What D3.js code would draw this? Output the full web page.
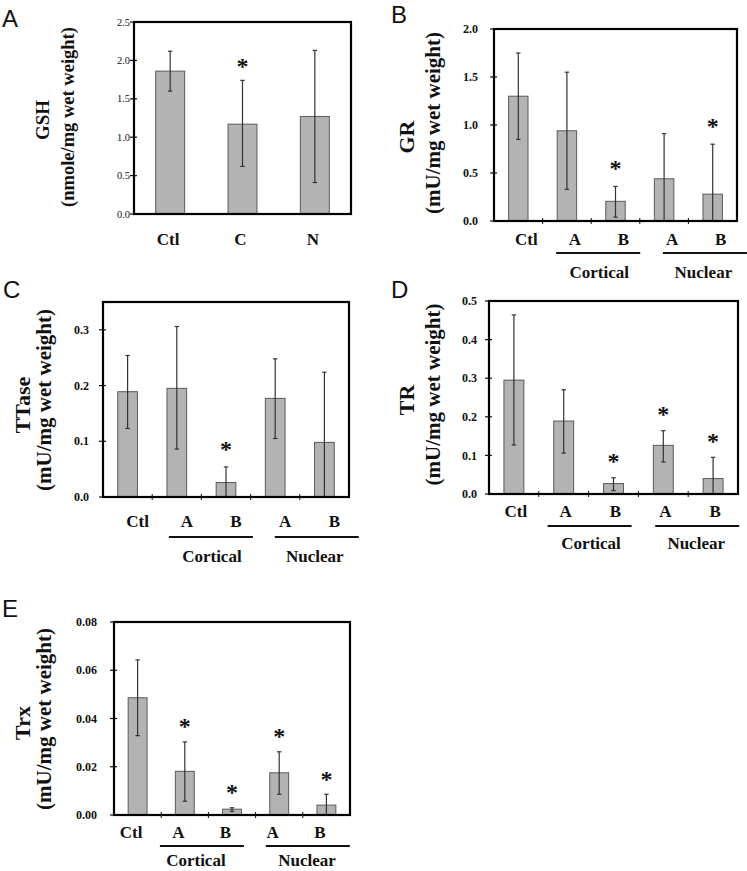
<!DOCTYPE html>
<html>
<head>
<meta charset="utf-8">
<script src="https://cdn.jsdelivr.net/npm/d3@7/dist/d3.min.js"></script>
<style>
  html, body { margin: 0; padding: 0; background: #fff; }
  svg { display: block; }
</style>
</head>
<body>
<svg id="chart" width="747" height="871"></svg>
<script>
// ---------------- DATA ----------------
// Panel A: GSH
const gshCategories = ["Ctl", "C", "N"];
const gshMean  = [1.86, 1.17, 1.27];
const gshUpper = [2.12, 1.74, 2.13];
const gshLower = [1.60, 0.62, 0.41];
const gshSig   = [false, true, false];
const gshTicks = [0, 0.5, 1.0, 1.5, 2.0, 2.5];

// Shared categories for panels B–E
const groupCategories = ["Ctl", "A", "B", "A", "B"];
const groupNames = ["Cortical", "Nuclear"];

// Panel B: GR
const grMean  = [1.30, 0.94, 0.205, 0.44, 0.28];
const grUpper = [1.75, 1.55, 0.36, 0.91, 0.80];
const grLower = [0.85, 0.33, 0.04, 0, 0];
const grSig   = [false, false, true, false, true];
const grTicks = [0, 0.5, 1.0, 1.5, 2.0];

// Panel C: TTase
const ttaseMean  = [0.189, 0.195, 0.026, 0.177, 0.098];
const ttaseUpper = [0.254, 0.306, 0.054, 0.248, 0.224];
const ttaseLower = [0.123, 0.086, 0, 0.105, 0];
const ttaseSig   = [false, false, true, false, false];
const ttaseTicks = [0, 0.1, 0.2, 0.3];

// Panel D: TR
const trMean  = [0.295, 0.189, 0.027, 0.126, 0.040];
const trUpper = [0.464, 0.270, 0.042, 0.164, 0.095];
const trLower = [0.127, 0.106, 0.009, 0.083, 0];
const trSig   = [false, false, true, true, true];
const trTicks = [0, 0.1, 0.2, 0.3, 0.4, 0.5];

// Panel E: Trx
const trxMean  = [0.0486, 0.0181, 0.0024, 0.0175, 0.0041];
const trxUpper = [0.0643, 0.0303, 0.0030, 0.0262, 0.0086];
const trxLower = [0.0329, 0.0057, 0.0015, 0.0086, 0];
const trxSig   = [false, true, true, true, true];
const trxTicks = [0, 0.02, 0.04, 0.06, 0.08];

// ---------------- LAYOUT ----------------
const panels = [
  { letter: "A", cats: gshCategories, mean: gshMean, upper: gshUpper, lower: gshLower, sig: gshSig,
    ticks: gshTicks, ymax: 2.5, fmt: ".1f",
    title1: "GSH", title2: "(nmole/mg wet weight)",
    box: { x0: 134, x1: 351, y0: 22, y1: 214 },
    letterPos: [2, 27], labelY: 245, labelShift: -2, tickLabelX: 130, tickSize: 10.5, tickWeight: "normal",
    t1: { x: 49, y: 120, size: 19 }, t2: { x: 73.5, y: 117, size: 18.5 },
    starOff: 18, minor: false, groups: null },
  { letter: "B", cats: groupCategories, mean: grMean, upper: grUpper, lower: grLower, sig: grSig,
    ticks: grTicks, ymax: 2.0, fmt: ".1f",
    title1: "GR", title2: "(mU/mg wet weight)",
    box: { x0: 494, x1: 737, y0: 29, y1: 221 },
    letterPos: [391, 23], labelY: 245, labelShift: 8, tickLabelX: 478, tickSize: 12, tickWeight: "bold",
    t1: { x: 414, y: 137, size: 22 }, t2: { x: 439.5, y: 123, size: 21 },
    starOff: 22, minor: true,
    groups: { lineY: 253, textY: 278, shift: [7, 16.5], textShift: [1, -1.5] } },
  { letter: "C", cats: groupCategories, mean: ttaseMean, upper: ttaseUpper, lower: ttaseLower, sig: ttaseSig,
    ticks: ttaseTicks, ymax: 0.35, fmt: ".1f",
    title1: "TTase", title2: "(mU/mg wet weight)",
    box: { x0: 103, x1: 349, y0: 302, y1: 497 },
    letterPos: [3, 298], labelY: 527, labelShift: 10, tickLabelX: 89, tickSize: 12, tickWeight: "bold",
    t1: { x: 30, y: 405, size: 22 }, t2: { x: 51, y: 400, size: 21 },
    starOff: 21, minor: true,
    groups: { lineY: 537, textY: 562, shift: [9.5, 17], textShift: [1, -2] } },
  { letter: "D", cats: groupCategories, mean: trMean, upper: trUpper, lower: trLower, sig: trSig,
    ticks: trTicks, ymax: 0.5, fmt: ".1f",
    title1: "TR", title2: "(mU/mg wet weight)",
    box: { x0: 489, x1: 738, y0: 301, y1: 494 },
    letterPos: [391, 298], labelY: 517, labelShift: 2, tickLabelX: 477, tickSize: 12, tickWeight: "bold",
    t1: { x: 414, y: 400, size: 22 }, t2: { x: 440, y: 394.5, size: 21 },
    starOff: 20, minor: true,
    groups: { lineY: 526, textY: 549, shift: [1, 9], textShift: [1.5, -1] } },
  { letter: "E", cats: groupCategories, mean: trxMean, upper: trxUpper, lower: trxLower, sig: trxSig,
    ticks: trxTicks, ymax: 0.08, fmt: ".2f",
    title1: "Trx", title2: "(mU/mg wet weight)",
    box: { x0: 114, x1: 350, y0: 622, y1: 815 },
    letterPos: [2, 617], labelY: 838, labelShift: -6.5, tickLabelX: 97, tickSize: 12, tickWeight: "bold",
    t1: { x: 30, y: 723, size: 22 }, t2: { x: 51, y: 719, size: 21 },
    starOff: 19, minor: true,
    groups: { lineY: 846, textY: 866, shift: [-6.5, 5], textShift: [-6, -0.7] } }
];

const SERIF = "Liberation Serif, Times New Roman, DejaVu Serif, serif";
const SANS = "Liberation Sans, Arial, DejaVu Sans, sans-serif";
const STAR_SIZE = 24;
const svg = d3.select("#chart");

panels.forEach(p => {
  const g = svg.append("g");
  const b = p.box;
  const idx = p.cats.map((c, i) => i);
  const x = d3.scaleBand().domain(idx).range([b.x0, b.x1]).padding(0);
  const y = d3.scaleLinear().domain([0, p.ymax]).range([b.y1, b.y0]);
  const bw = x.bandwidth() * 0.4;
  const cx = i => x(i) + x.bandwidth() / 2;

  // panel letter
  g.append("text").attr("x", p.letterPos[0]).attr("y", p.letterPos[1])
    .attr("font-family", SANS).attr("font-size", 24).attr("fill", "#111").text(p.letter);

  // y-axis titles
  [[p.title1, p.t1], [p.title2, p.t2]].forEach(([txt, t]) => {
    g.append("text").attr("transform", `translate(${t.x},${t.y}) rotate(-90)`)
      .attr("text-anchor", "middle").attr("font-family", SERIF).attr("font-weight", "bold")
      .attr("font-size", t.size).attr("fill", "#111").text(txt);
  });

  // bars
  g.selectAll("rect.bar").data(idx).join("rect").attr("class", "bar")
    .attr("x", i => cx(i) - bw / 2).attr("width", bw)
    .attr("y", i => y(p.mean[i])).attr("height", i => y(0) - y(p.mean[i]))
    .attr("fill", "#b3b3b3").attr("stroke", "#5a5a5a").attr("stroke-width", 1);

  // error bars
  const eb = g.selectAll("g.err").data(idx).join("g").attr("class", "err")
    .attr("stroke", "#333").attr("stroke-width", 1.2);
  eb.append("line").attr("x1", cx).attr("x2", cx)
    .attr("y1", i => y(p.upper[i])).attr("y2", i => y(Math.max(0, p.lower[i])));
  eb.append("line").attr("x1", i => cx(i) - 2.2).attr("x2", i => cx(i) + 2.2)
    .attr("y1", i => y(p.upper[i])).attr("y2", i => y(p.upper[i]));
  eb.filter(i => p.lower[i] > 0).append("line").attr("x1", i => cx(i) - 2.2).attr("x2", i => cx(i) + 2.2)
    .attr("y1", i => y(p.lower[i])).attr("y2", i => y(p.lower[i]));

  // significance stars
  g.selectAll("text.star").data(idx.filter(i => p.sig[i])).join("text").attr("class", "star")
    .attr("x", cx).attr("y", i => y(p.upper[i]) - p.starOff + STAR_SIZE * 0.48)
    .attr("text-anchor", "middle").attr("font-family", SERIF).attr("font-weight", "bold")
    .attr("font-size", STAR_SIZE).attr("fill", "#111").text("*");

  // y ticks
  const fmt = d3.format(p.fmt);
  g.selectAll("line.yt").data(p.ticks).join("line").attr("class", "yt")
    .attr("x1", b.x0 - 4).attr("x2", b.x0 + 3).attr("y1", d => y(d)).attr("y2", d => y(d))
    .attr("stroke", "#111").attr("stroke-width", 1.2);
  g.selectAll("text.ytl").data(p.ticks).join("text").attr("class", "ytl")
    .attr("x", p.tickLabelX).attr("y", d => y(d)).attr("dy", "0.35em")
    .attr("text-anchor", "end").attr("font-family", SERIF).attr("font-weight", p.tickWeight)
    .attr("font-size", p.tickSize).attr("fill", "#111").text(d => fmt(d));

  // minor x ticks between categories
  if (p.minor) {
    g.selectAll("line.xt").data(idx.slice(1)).join("line").attr("class", "xt")
      .attr("x1", i => x(i)).attr("x2", i => x(i)).attr("y1", b.y1 - 3).attr("y2", b.y1 + 3)
      .attr("stroke", "#111").attr("stroke-width", 1);
  }

  // frame
  g.append("rect").attr("x", b.x0).attr("y", b.y0).attr("width", b.x1 - b.x0).attr("height", b.y1 - b.y0)
    .attr("fill", "none").attr("stroke", "#000").attr("stroke-width", 2.2);

  // category labels
  g.selectAll("text.cat").data(idx).join("text").attr("class", "cat")
    .attr("x", i => cx(i) + p.labelShift).attr("y", p.labelY)
    .attr("text-anchor", "middle").attr("font-family", SERIF).attr("font-weight", "bold")
    .attr("font-size", 17).attr("fill", "#111").text(i => p.cats[i]);

  // group underlines and names
  if (p.groups) {
    const G = p.groups;
    [[1, 2], [3, 4]].forEach((pair, k) => {
      const mid = (cx(pair[0]) + cx(pair[1])) / 2 + G.shift[k];
      g.append("line").attr("x1", mid - 42).attr("x2", mid + 42)
        .attr("y1", G.lineY).attr("y2", G.lineY).attr("stroke", "#111").attr("stroke-width", 2);
      g.append("text").attr("x", mid + G.textShift[k]).attr("y", G.textY)
        .attr("text-anchor", "middle").attr("font-family", SERIF).attr("font-weight", "bold")
        .attr("font-size", 17).attr("fill", "#111").text(groupNames[k]);
    });
  }
});
</script>
</body>
</html>
